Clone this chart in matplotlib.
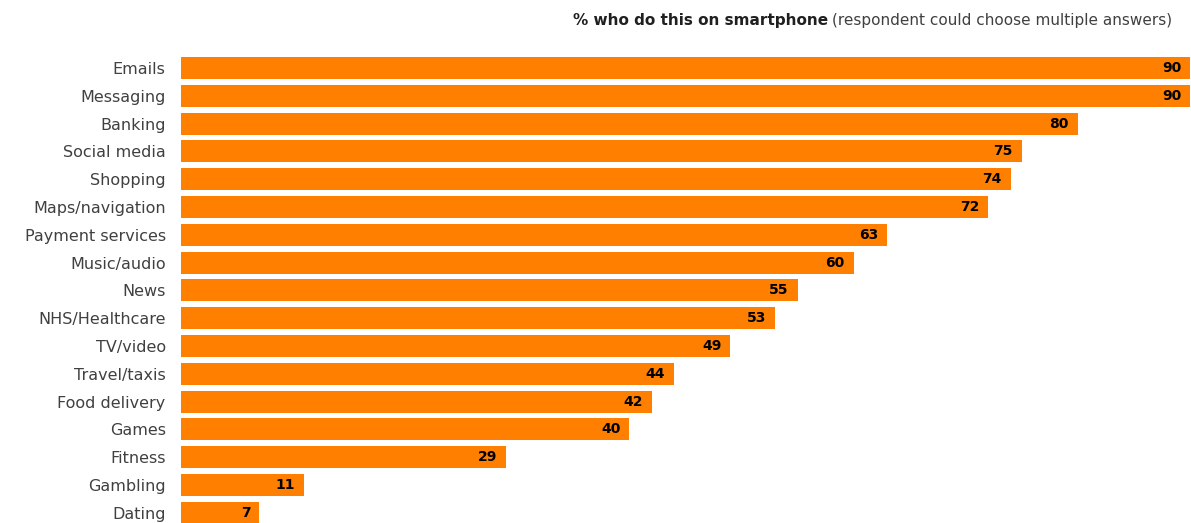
import matplotlib.pyplot as plt

activities = ['Emails', 'Messaging', 'Banking', 'Social media', 'Shopping',
              'Maps/navigation', 'Payment services', 'Music/audio', 'News',
              'NHS/Healthcare', 'TV/video', 'Travel/taxis', 'Food delivery',
              'Games', 'Fitness', 'Gambling', 'Dating']
share = [90, 90, 80, 75, 74, 72, 63, 60, 55, 53, 49, 44, 42, 40, 29, 11, 7]

plt.rcParams['font.family'] = ['DejaVu Sans']

W, H = 1191, 523
fig = plt.figure(figsize=(W / 100, H / 100), dpi=100)
ax = fig.add_axes([181 / W, 0, (1190 - 181) / W, (523 - 40) / H])

pos = list(range(len(activities)))
ax.barh(pos, share, height=0.79, color='#FF7F00', edgecolor='none')
ax.set_xlim(0, 90)
ax.set_ylim(16.37, -1.007)

for y, v in zip(pos, share):
    ax.text(v - 0.8, y, str(v), ha='right', va='center', fontsize=10,
            fontweight='bold', color='black')

ax.set_yticks(pos)
ax.set_yticklabels(activities, fontsize=11.5, color='#404040')
ax.tick_params(axis='y', length=0, pad=11)
ax.set_xticks([])
for s in ax.spines.values():
    s.set_visible(False)

# two-part heading: bold lead followed by a plain note, right aligned
note = fig.text(1172 / W, 1 - 20 / H, '(respondent could choose multiple answers)',
                ha='right', va='center', fontsize=11, color='#404040')
fig.canvas.draw()
bb = note.get_window_extent()
fig.text((bb.x0 - 4) / W, 1 - 20 / H, '% who do this on smartphone',
         ha='right', va='center', fontsize=11, fontweight='bold', color='#202020')

fig.savefig('out.png', dpi=100)
